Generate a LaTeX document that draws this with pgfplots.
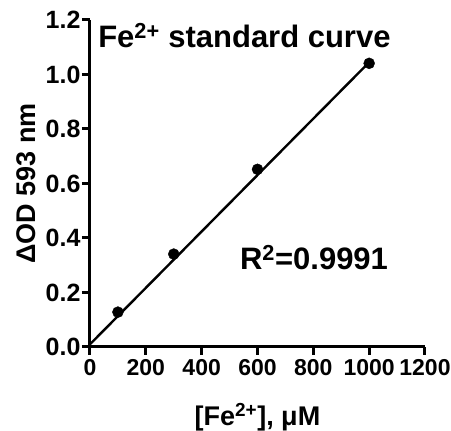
\documentclass[border=0pt]{standalone}
\usepackage{fontspec}
\setmainfont{Liberation Sans}
\usepackage{pgfplots}
\pgfplotsset{compat=1.18}

\begin{document}
\begin{tikzpicture}
\useasboundingbox (-90pt,-84pt) rectangle (361pt,347pt);
\begin{axis}[
    at={(0,0)}, anchor=south west,
    scale only axis,
    width=335pt, height=327pt,
    xmin=0, xmax=1200, ymin=0, ymax=1.2,
    axis x line*=bottom, axis y line*=left,
    axis line style={line width=3pt},
    xtick={0,200,...,1200},
    ytick={0,0.2,...,1.2},
    tick align=outside,
    major tick length=8pt,
    tick style={line width=3pt, black},
    yticklabel style={/pgf/number format/fixed, /pgf/number format/precision=1, /pgf/number format/fixed zerofill, xshift=2pt, font=\fontsize{25}{30}\selectfont\bfseries},
    xticklabel style={yshift=-1pt, font=\fontsize{23}{28}\selectfont\bfseries},
    /pgf/number format/assume math mode=true,
    /pgf/number format/1000 sep={},
    label style={font=\fontsize{27}{32}\selectfont\bfseries},
    xlabel={[Fe\textsuperscript{2+}], μM},
    ylabel={ΔOD 593 nm},
    xlabel style={at={(0.5,-0.24)}, anchor=base},
    ylabel style={at={(-0.19,0.5)}, anchor=center},
    clip=false,
]
\addplot[black, line width=2.4pt, no marks] coordinates {(0,0.01) (1000,1.045)};
\addplot[only marks, mark=*, mark size=5.5pt, black] coordinates {
(100,0.128) (300,0.341) (600,0.652) (1000,1.041)};
\node[anchor=base west, inner sep=0pt, font=\fontsize{31}{36}\selectfont\bfseries] at (axis cs:29,1.10) {Fe\textsuperscript{2+} standard curve};
\node[anchor=base west, inner sep=0pt, font=\fontsize{31}{36}\selectfont\bfseries] at (axis cs:537,0.283) {R\textsuperscript{2}=0.9991};
\end{axis}
\end{tikzpicture}
\end{document}
